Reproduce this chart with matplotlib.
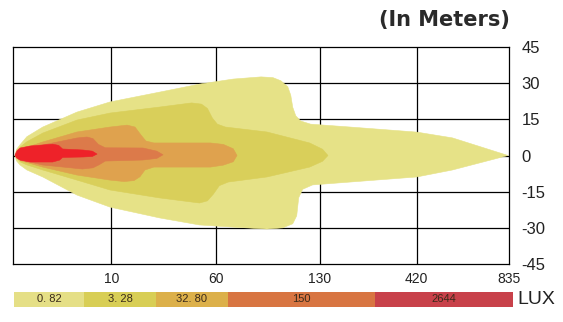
import matplotlib
matplotlib.use("Agg")
import matplotlib.pyplot as plt
from matplotlib.patches import Polygon
import numpy as np

# x positions of the grid columns (grid units) and their distance labels
x_ticks = [0, 0.99, 2.05, 3.09, 4.07, 5.0]
x_labels = ["", "10", "60", "130", "420", "835"]
y_ticks = [45, 30, 15, 0, -15, -30, -45]

lux_labels = ["0. 82", "3. 28", "32. 80", "150", "2644"]

# isolux outlines (x in grid units, y in meters), outer -> inner
zone_082 = [(0.02, 0), (0.035, 2.5), (0.07, 4.4), (0.14, 7.8), (0.30, 11.8),
            (0.645, 18.0), (0.978, 22.2), (1.48, 26.3),
            (1.88, 29.6), (2.22, 31.7), (2.50, 32.6), (2.62, 32.3), (2.70, 31.0),
            (2.77, 28.5), (2.80, 25.0), (2.82, 20.0), (2.85, 16.5), (2.90, 14.3),
            (3.00, 13.0), (3.40, 11.8), (4.07, 9.7), (4.43, 7.3), (4.99, 0),
            (4.43, -6.0), (4.07, -8.9), (3.40, -11.0), (3.02, -12.2), (2.92, -14.0),
            (2.88, -17.5), (2.86, -25.0), (2.82, -28.3), (2.72, -30.0), (2.56, -30.5),
            (2.22, -29.7), (1.88, -28.8), (1.48, -25.9), (0.978, -21.4),
            (0.645, -16.4), (0.30, -8.9), (0.14, -6.0), (0.07, -3.9), (0.035, -2.2)]
zone_328 = [(0.02, 0), (0.07, 3.4), (0.14, 5.7), (0.30, 9.3), (0.645, 14.7),
            (0.978, 17.6), (1.48, 20.1),
            (1.80, 21.8), (1.90, 21.3), (1.96, 19.5), (2.01, 15.5), (2.06, 13.0),
            (2.14, 11.8), (2.56, 9.75), (2.99, 5.2), (3.12, 2.6), (3.175, 0),
            (3.12, -2.4), (2.99, -4.8),
            (2.56, -8.9), (2.17, -11.0), (2.08, -12.5), (2.02, -16.0), (1.96, -18.8),
            (1.88, -19.7), (1.48, -17.6), (0.978, -14.3), (0.645, -10.2), (0.30, -6.0),
            (0.14, -3.9), (0.07, -2.6)]
zone_3280 = [(0.02, 0), (0.08, 2.6), (0.30, 5.6), (0.645, 9.75), (0.978, 11.8),
             (1.15, 12.6),
             (1.23, 11.8), (1.29, 8.5), (1.34, 6.0), (1.42, 5.2), (1.99, 5.2),
             (2.12, 4.6), (2.22, 2.8), (2.258, 0), (2.22, -2.6), (2.12, -4.0),
             (1.99, -4.8), (1.42, -4.8), (1.33, -6.0), (1.28, -8.8), (1.22, -10.4),
             (1.12, -10.8), (0.978, -10.2), (0.645, -8.1), (0.30, -4.8), (0.08, -2.2)]
zone_150 = [(0.02, 0), (0.08, 2.0), (0.30, 4.35), (0.645, 7.26), (0.746, 7.67),
            (0.806, 7.0),
            (0.86, 4.6), (0.93, 3.2), (1.31, 3.11), (1.45, 1.8), (1.512, 0.3),
            (1.45, -1.2), (1.31, -1.87), (0.93, -2.3), (0.87, -3.8), (0.806, -5.1),
            (0.70, -5.6), (0.30, -3.94), (0.08, -1.8)]
zone_2644 = [(0.02, 0.2), (0.04, 2.0), (0.071, 3.1), (0.171, 3.94), (0.40, 4.7),
             (0.46, 4.2),
             (0.50, 2.7), (0.706, 2.28), (0.80, 1.8), (0.847, 0.6), (0.80, -0.4),
             (0.706, -0.62), (0.50, -0.8), (0.47, -1.9), (0.40, -2.7), (0.171, -2.7),
             (0.071, -1.9), (0.035, -1.0)]

zones = [zone_082, zone_328, zone_3280, zone_150, zone_2644]
zone_colors = ["#e6e287", "#d9cf5a", "#dfa24e", "#dc7a4a", "#ee2229"]
legend_colors = ["#e5df86", "#d8ce55", "#dcb04a", "#d87542", "#c8414a"]
legend_edges = [0, 70, 142, 214, 361, 499]

fig = plt.figure(figsize=(5.63, 3.22), dpi=100)
ax = fig.add_axes([13 / 563, 58 / 322, 496 / 563, 217 / 322])

for xv in x_ticks[1:-1]:
    ax.axvline(xv, color="black", lw=0.9, zorder=1)
for yv in y_ticks[1:-1]:
    ax.axhline(yv, color="black", lw=0.9, zorder=1)

for pts, c in zip(zones, zone_colors):
    ax.add_patch(Polygon(pts, closed=True, facecolor=c, edgecolor=c, lw=0.4,
                         zorder=2, joinstyle="round"))

ax.set_xlim(0, 5)
ax.set_ylim(-45, 45)
for s in ax.spines.values():
    s.set_linewidth(0.9)
    s.set_zorder(5)

ax.set_xticks(x_ticks)
ax.set_xticklabels(x_labels, fontsize=10, family="Liberation Sans", color="#222222")
ax.set_yticks(y_ticks)
ax.set_yticklabels([str(v) for v in y_ticks], fontsize=12, family="Liberation Sans",
                   color="#222222")
ax.yaxis.tick_right()
ax.tick_params(axis="y", length=0, pad=9)
ax.tick_params(axis="x", length=0, pad=6)
for lab in ax.get_yticklabels():
    lab.set_horizontalalignment("left")

fig.text(510 / 563, 1 - 20 / 322, "(In Meters)", ha="right", va="center",
         fontsize=15, fontweight="bold", family="DejaVu Sans", color="#2a2a2a")

# LUX legend bar
lax = fig.add_axes([14 / 563, 15 / 322, 499 / 563, 15 / 322])
widths = np.diff(legend_edges)
lax.barh(0, widths, left=legend_edges[:-1], height=1, color=legend_colors,
         edgecolor="none")
for lbl, l, w in zip(lux_labels, legend_edges[:-1], widths):
    lax.text(l + w / 2, 0, lbl, ha="center", va="center", fontsize=8,
             family="Liberation Sans", color="#3a2a1a")
lax.set_xlim(0, legend_edges[-1])
lax.set_ylim(-0.5, 0.5)
lax.axis("off")
fig.text(517 / 563, 1 - 300 / 322, "LUX", ha="left", va="center", fontsize=14,
         family="Liberation Sans", color="#222222")

fig.savefig("out.png", dpi=100)
